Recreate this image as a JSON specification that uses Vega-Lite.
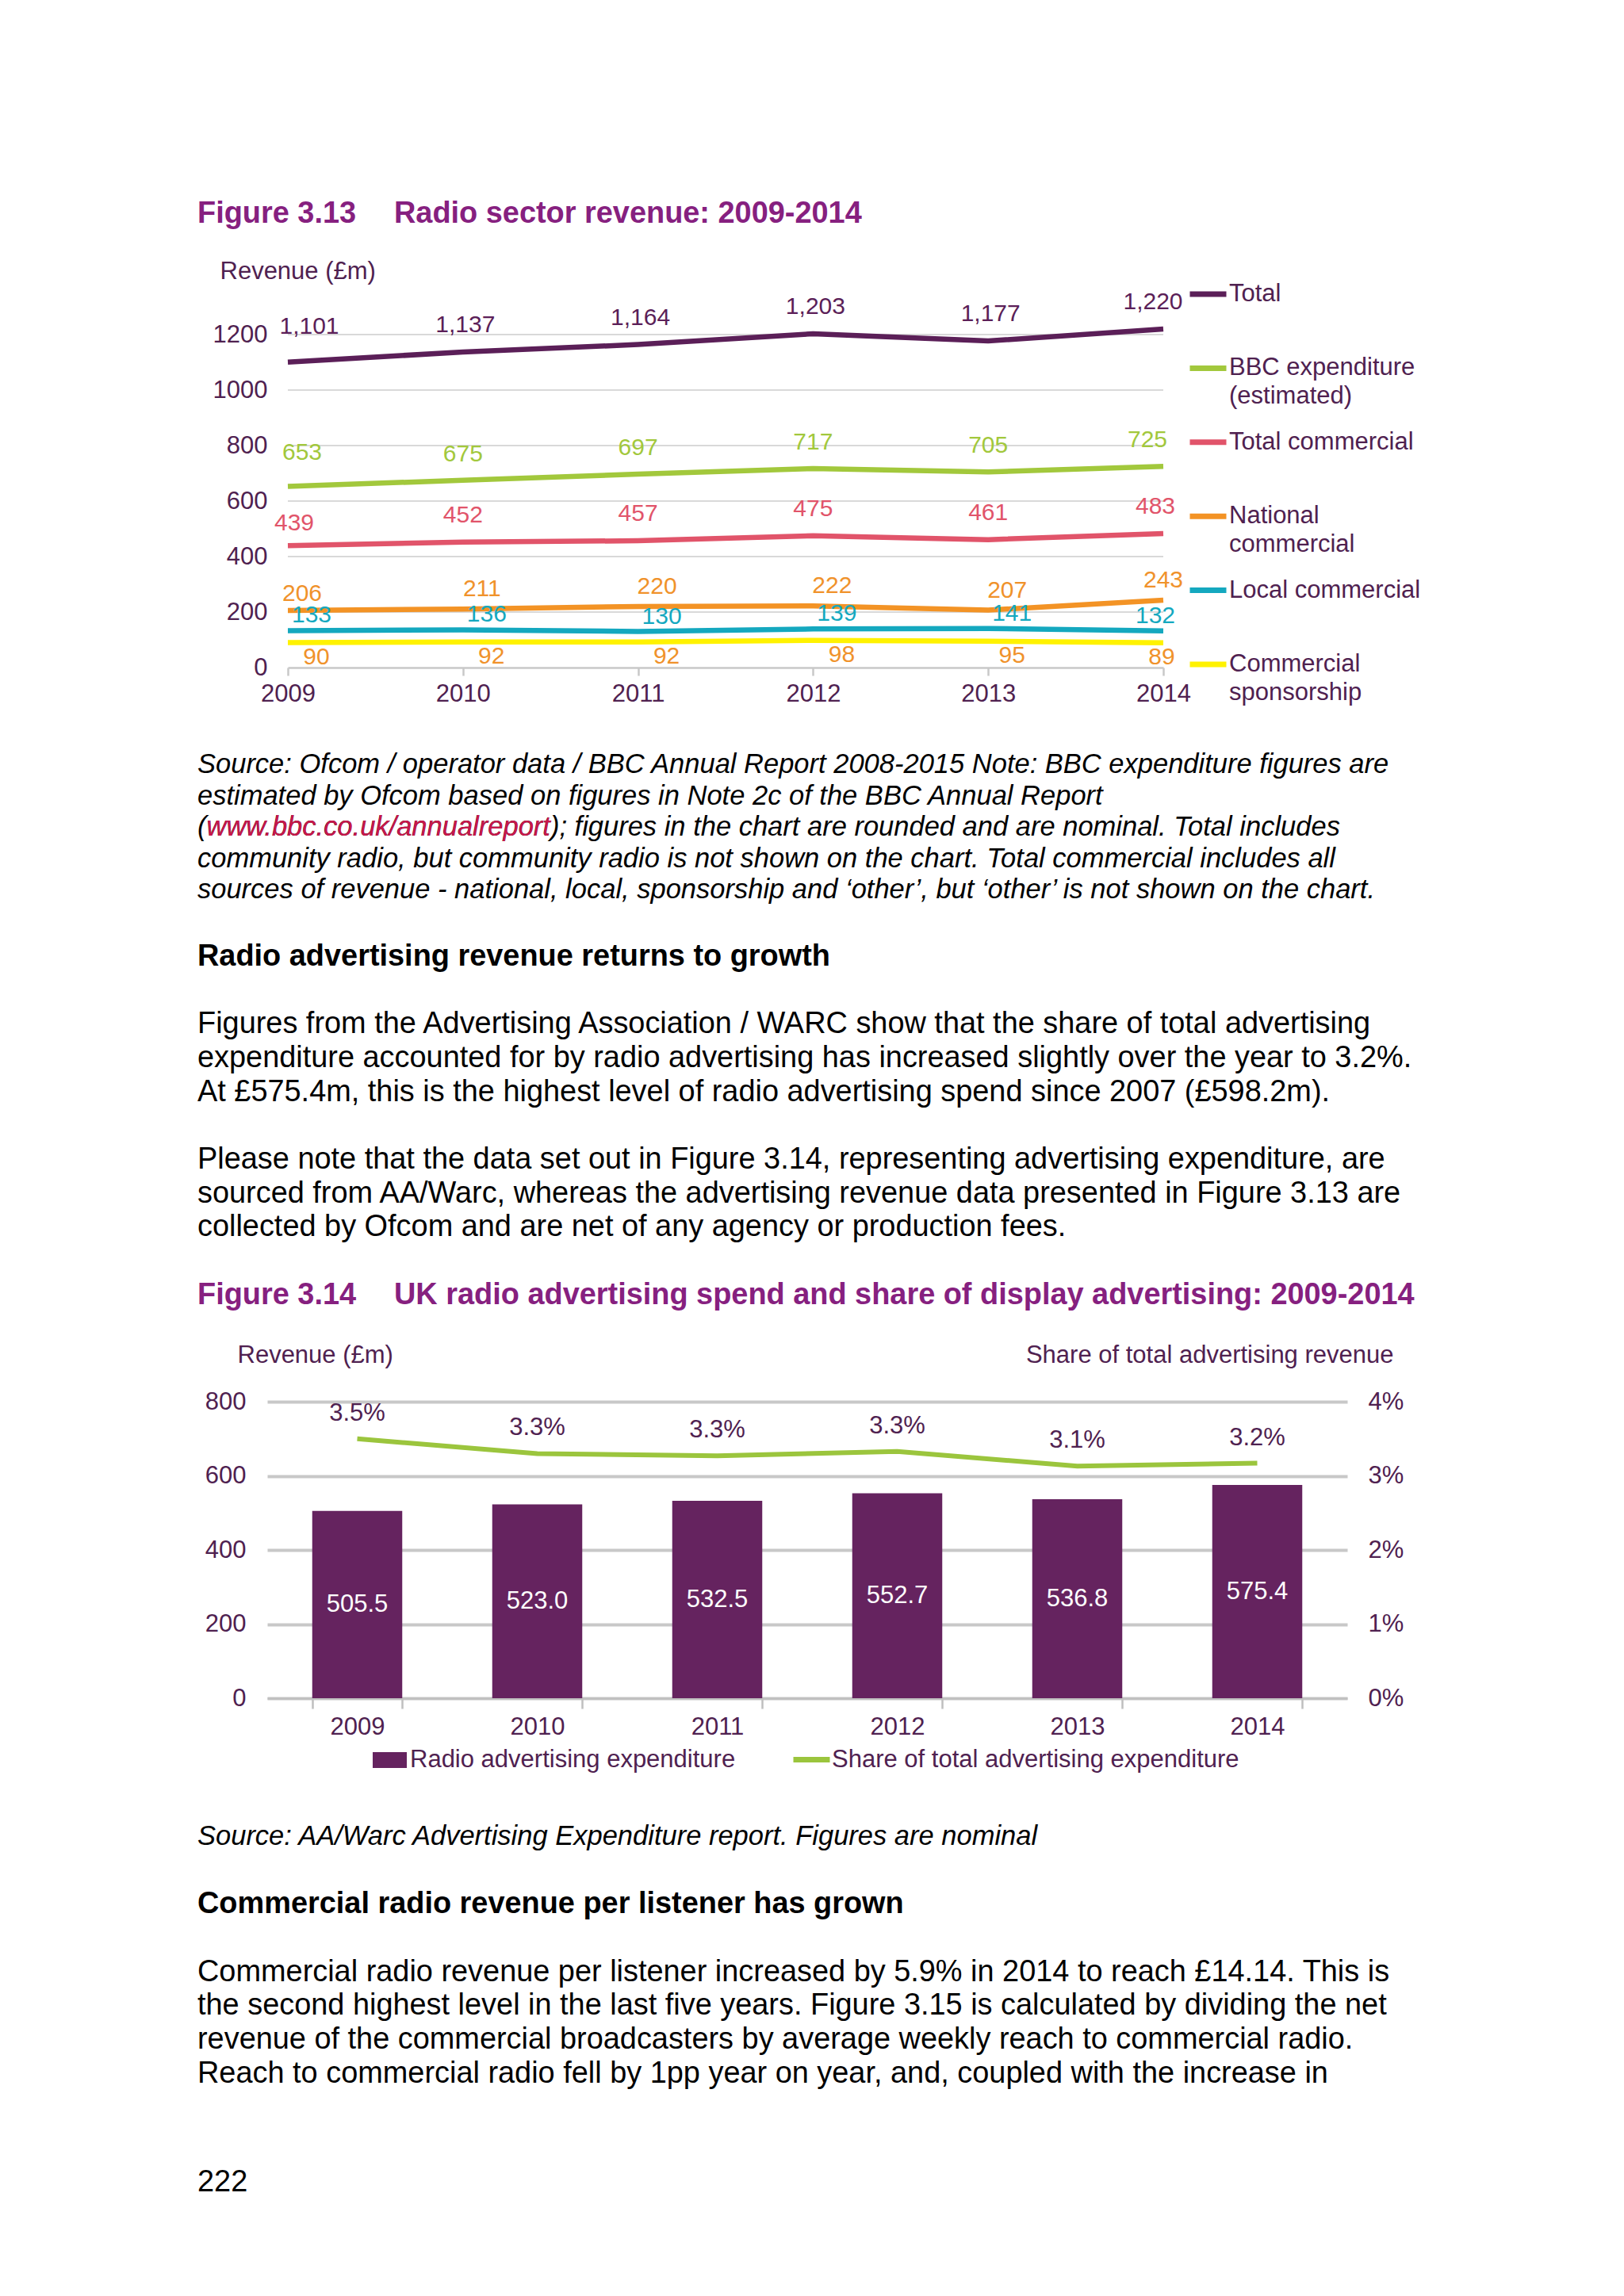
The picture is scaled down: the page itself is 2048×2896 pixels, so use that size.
{
  "$schema": "https://vega.github.io/schema/vega-lite/v6.json",
  "background": "white",
  "padding": {"left": 249, "top": 0, "right": 0, "bottom": 0},
  "autosize": {"type": "pad"},
  "bounds": "flush",
  "center": true,
  "spacing": 0,
  "resolve": {
    "scale": {"color": "independent", "fill": "independent", "stroke": "independent"},
    "legend": {"color": "independent", "fill": "independent", "stroke": "independent"}
  },
  "config": {
    "font": "Liberation Sans",
    "view": {"stroke": null},
    "style": {"guide-label": {"lineHeight": 36}},
    "axis": {"labelFont": "Liberation Sans", "titleFont": "Liberation Sans", "labelColor": "#4F2150", "titleColor": "#4F2150", "labelFontSize": 31, "titleFontSize": 31, "titleFontWeight": "normal"},
    "legend": {"labelFont": "Liberation Sans", "labelFontSize": 31, "labelColor": "#4F2150", "labelLimit": 600}
  },
  "vconcat": [
    {"width": 1, "height": 270, "mark": "point", "data": {"values": []}},
    {
      "width": 1538, "height": 81.5,
      "data": {"values": [
        {"row": 0, "tab": 0, "text": "Figure 3.13"},
        {"row": 0, "tab": 1, "text": "Radio sector revenue: 2009-2014"}
      ]},
      "mark": {"type": "text", "align": "left", "baseline": "middle", "fontSize": 37.9, "fontWeight": "bold", "color": "#86207F"},
      "encoding": {
        "x": {"field": "tab", "type": "quantitative", "scale": {"domain": [0, 1], "range": [0, 248]}, "axis": null},
        "y": {"field": "row", "type": "quantitative", "scale": {"domain": [0, 1], "range": [0, 42.66]}, "axis": null},
        "text": {"field": "text"}
      }
    },
    {
      "width": 1310, "height": 490,
      "data": {"values": [
        {"year": 2009, "series": "Total", "value": 1101},
        {"year": 2010, "series": "Total", "value": 1137},
        {"year": 2011, "series": "Total", "value": 1164},
        {"year": 2012, "series": "Total", "value": 1203},
        {"year": 2013, "series": "Total", "value": 1177},
        {"year": 2014, "series": "Total", "value": 1220},
        {"year": 2009, "series": "BBC expenditure (estimated)", "value": 653},
        {"year": 2010, "series": "BBC expenditure (estimated)", "value": 675},
        {"year": 2011, "series": "BBC expenditure (estimated)", "value": 697},
        {"year": 2012, "series": "BBC expenditure (estimated)", "value": 717},
        {"year": 2013, "series": "BBC expenditure (estimated)", "value": 705},
        {"year": 2014, "series": "BBC expenditure (estimated)", "value": 725},
        {"year": 2009, "series": "Total commercial", "value": 439},
        {"year": 2010, "series": "Total commercial", "value": 452},
        {"year": 2011, "series": "Total commercial", "value": 457},
        {"year": 2012, "series": "Total commercial", "value": 475},
        {"year": 2013, "series": "Total commercial", "value": 461},
        {"year": 2014, "series": "Total commercial", "value": 483},
        {"year": 2009, "series": "National commercial", "value": 206},
        {"year": 2010, "series": "National commercial", "value": 211},
        {"year": 2011, "series": "National commercial", "value": 220},
        {"year": 2012, "series": "National commercial", "value": 222},
        {"year": 2013, "series": "National commercial", "value": 207},
        {"year": 2014, "series": "National commercial", "value": 243},
        {"year": 2009, "series": "Local commercial", "value": 133},
        {"year": 2010, "series": "Local commercial", "value": 136},
        {"year": 2011, "series": "Local commercial", "value": 130},
        {"year": 2012, "series": "Local commercial", "value": 139},
        {"year": 2013, "series": "Local commercial", "value": 141},
        {"year": 2014, "series": "Local commercial", "value": 132},
        {"year": 2009, "series": "Commercial sponsorship", "value": 90},
        {"year": 2010, "series": "Commercial sponsorship", "value": 92},
        {"year": 2011, "series": "Commercial sponsorship", "value": 92},
        {"year": 2012, "series": "Commercial sponsorship", "value": 98},
        {"year": 2013, "series": "Commercial sponsorship", "value": 95},
        {"year": 2014, "series": "Commercial sponsorship", "value": 89}
      ]},
      "encoding": {
        "x": {"field": "year", "type": "ordinal", "scale": {"type": "point", "padding": 0, "range": [0, 1104]},
          "axis": {"title": null, "labelAngle": 0, "domainColor": "#C8C8C8", "domainWidth": 2.5, "tickColor": "#C8C8C8", "tickWidth": 2.5, "tickSize": 10, "labelBaseline": "middle", "labelPadding": 23.5, "grid": false}},
        "y": {"field": "value", "type": "quantitative", "scale": {"domain": [0, 1400], "nice": false},
          "axis": {"values": [0, 200, 400, 600, 800, 1000, 1200], "format": "d", "title": "Revenue (£m)", "titleAngle": 0, "titleAlign": "left", "titleBaseline": "middle", "titleX": -86, "titleY": -9.5, "domain": false, "ticks": false, "labelPadding": 26, "grid": false}}
      },
      "layer": [
        {
          "data": {"values": [{"grid": 200}, {"grid": 400}, {"grid": 600}, {"grid": 800}, {"grid": 1000}, {"grid": 1200}]},
          "mark": {"type": "rule", "color": "#D9D9D9", "strokeWidth": 2},
          "encoding": {
            "y": {"field": "grid", "type": "quantitative",
              "axis": {"values": [0, 200, 400, 600, 800, 1000, 1200], "format": "d", "title": "Revenue (£m)", "titleAngle": 0, "titleAlign": "left", "titleBaseline": "middle", "titleX": -86, "titleY": -9.5, "domain": false, "ticks": false, "labelPadding": 26, "grid": false}},
            "x": {"datum": 2009},
            "x2": {"datum": 2014}
          }
        },
        {
          "mark": {"type": "line", "strokeWidth": 6.5, "strokeCap": "butt", "strokeJoin": "round"},
          "encoding": {
            "color": {"field": "series", "type": "nominal",
              "scale": {"domain": ["Total", "BBC expenditure (estimated)", "Total commercial", "National commercial", "Local commercial", "Commercial sponsorship"],
                        "range": ["#5B1F58", "#A2C83C", "#E1546A", "#F39325", "#14A8BF", "#FFF200"]},
              "legend": {"title": null, "orient": "none", "legendX": 1134, "legendY": -7.5, "padding": 0, "symbolType": "stroke", "symbolSize": 2116, "symbolStrokeWidth": 7, "gridAlign": "all", "rowPadding": 15.4, "labelOffset": 0,
                "labelExpr": "datum.label == 'BBC expenditure (estimated)' ? ['BBC expenditure', '(estimated)'] : datum.label == 'National commercial' ? ['National', 'commercial'] : datum.label == 'Commercial sponsorship' ? ['Commercial', 'sponsorship'] : datum.label"}
            }
          }
        },
        {
          "mark": {"type": "text", "fontSize": 30, "baseline": "middle",
            "dx": {"expr": "datum.series == 'Total' ? (datum.year == 2009 ? 27 : datum.year == 2014 ? -13 : 3) : datum.series == 'BBC expenditure (estimated)' ? (datum.year == 2009 ? 18 : datum.year == 2014 ? -20 : 0) : datum.series == 'Total commercial' ? (datum.year == 2009 ? 8 : datum.year == 2014 ? -10 : 0) : datum.series == 'National commercial' ? (datum.year == 2009 ? 18 : datum.year == 2014 ? 0 : 24) : datum.series == 'Local commercial' ? (datum.year == 2014 ? -10 : 30) : (datum.year == 2014 ? -2 : datum.year == 2013 ? 30 : 36)"},
            "dy": {"expr": "datum.series == 'Total' ? (datum.year == 2009 ? -45 : -34) : datum.series == 'BBC expenditure (estimated)' ? (datum.year == 2009 ? -42 : -33) : datum.series == 'Total commercial' ? (datum.year == 2009 ? -28 : -34) : datum.series == 'National commercial' ? (datum.year == 2009 ? -21 : -25) : datum.series == 'Local commercial' ? -19 : 18"}
          },
          "encoding": {
            "text": {"field": "value", "type": "quantitative", "format": ","},
            "fill": {"field": "series", "type": "nominal",
              "scale": {"domain": ["Total", "BBC expenditure (estimated)", "Total commercial", "National commercial", "Local commercial", "Commercial sponsorship"],
                        "range": ["#5B1F58", "#A2C83C", "#E1546A", "#F0922B", "#14A8BF", "#F0922B"]},
              "legend": null}
          }
        }
      ]
    },
    {"width": 1, "height": 123, "mark": "point", "data": {"values": []}},
    {
      "width": 1538, "height": 241.5,
      "data": {"values": [
        {"row": 0, "text": "Source: Ofcom / operator data / BBC Annual Report 2008-2015 Note: BBC expenditure figures are"},
        {"row": 1, "text": "estimated by Ofcom based on figures in Note 2c of the BBC Annual Report"},
        {"row": 2, "text": "(www.bbc.co.uk/annualreport); figures in the chart are rounded and are nominal. Total includes"},
        {"row": 3, "text": "community radio, but community radio is not shown on the chart. Total commercial includes all"},
        {"row": 4, "text": "sources of revenue - national, local, sponsorship and ‘other’, but ‘other’ is not shown on the chart."}
      ]},
      "encoding": {
        "x": {"value": 0},
        "y": {"field": "row", "type": "quantitative", "scale": {"domain": [0, 1], "range": [0, 39.6]}, "axis": null},
        "text": {"field": "text"}
      },
      "layer": [
        {"mark": {"type": "text", "align": "left", "baseline": "middle", "fontSize": 34.5, "fontStyle": "italic", "color": "#000000"}},
        {"transform": [{"filter": "datum.row == 2"}],
         "mark": {"type": "text", "align": "left", "baseline": "middle", "fontSize": 34.5, "fontStyle": "italic", "color": "#C8174B", "dx": 11.5},
         "encoding": {"text": {"value": "www.bbc.co.uk/annualreport"}}}
      ]
    },
    {
      "width": 1538, "height": 561,
      "data": {"values": [
        {"row": 0, "kind": "heading", "tab": 0, "text": "Radio advertising revenue returns to growth"},
        {"row": 2, "kind": "body", "tab": 0, "text": "Figures from the Advertising Association / WARC show that the share of total advertising"},
        {"row": 3, "kind": "body", "tab": 0, "text": "expenditure accounted for by radio advertising has increased slightly over the year to 3.2%."},
        {"row": 4, "kind": "body", "tab": 0, "text": "At £575.4m, this is the highest level of radio advertising spend since 2007 (£598.2m)."},
        {"row": 6, "kind": "body", "tab": 0, "text": "Please note that the data set out in Figure 3.14, representing advertising expenditure, are"},
        {"row": 7, "kind": "body", "tab": 0, "text": "sourced from AA/Warc, whereas the advertising revenue data presented in Figure 3.13 are"},
        {"row": 8, "kind": "body", "tab": 0, "text": "collected by Ofcom and are net of any agency or production fees."},
        {"row": 10, "kind": "title", "tab": 0, "text": "Figure 3.14"},
        {"row": 10, "kind": "title", "tab": 1, "text": "UK radio advertising spend and share of display advertising: 2009-2014"}
      ]},
      "encoding": {
        "x": {"field": "tab", "type": "quantitative", "scale": {"domain": [0, 1], "range": [0, 248]}, "axis": null},
        "y": {"field": "row", "type": "quantitative", "scale": {"domain": [0, 1], "range": [0, 42.66]}, "axis": null},
        "text": {"field": "text"}
      },
      "layer": [
        {"transform": [{"filter": "datum.kind == 'body'"}], "mark": {"type": "text", "align": "left", "baseline": "middle", "fontSize": 37.9, "color": "#000000"}},
        {"transform": [{"filter": "datum.kind == 'heading'"}], "mark": {"type": "text", "align": "left", "baseline": "middle", "fontSize": 37.9, "fontWeight": "bold", "color": "#000000"}},
        {"transform": [{"filter": "datum.kind == 'title'"}], "mark": {"type": "text", "align": "left", "baseline": "middle", "fontSize": 37.9, "fontWeight": "bold", "color": "#86207F"}}
      ]
    },
    {
      "width": 1362, "height": 374,
      "data": {"values": [
        {"year": 2009, "spend": 505.5, "share": 0.035},
        {"year": 2010, "spend": 523.0, "share": 0.033},
        {"year": 2011, "spend": 532.5, "share": 0.0327},
        {"year": 2012, "spend": 552.7, "share": 0.0333},
        {"year": 2013, "spend": 536.8, "share": 0.0313},
        {"year": 2014, "spend": 575.4, "share": 0.0317}
      ]},
      "encoding": {
        "x": {"field": "year", "type": "ordinal", "scale": {"paddingInner": 0.5, "paddingOuter": 0.25},
          "axis": {"title": null, "labelAngle": 0, "tickBand": "extent", "domainColor": "#BFBFBF", "domainWidth": 2.5, "tickColor": "#BFBFBF", "tickWidth": 2.5, "tickSize": 13, "labelBaseline": "middle", "labelPadding": 23, "grid": false}}
      },
      "layer": [
        {
          "mark": {"type": "bar"},
          "encoding": {
            "y": {"field": "spend", "type": "quantitative", "scale": {"domain": [0, 800], "nice": false},
              "axis": {"values": [0, 200, 400, 600, 800], "title": "Revenue (£m)", "titleAngle": 0, "titleAlign": "left", "titleBaseline": "middle", "titleX": -38, "titleY": -59, "domain": false, "ticks": false, "labelPadding": 27, "grid": true, "gridColor": "#C8C8C8", "gridWidth": 4}},
            "fill": {"datum": "Radio advertising expenditure", "type": "nominal", "scale": {"range": ["#65235F"]},
              "legend": {"title": null, "orient": "none", "legendX": 133, "legendY": 430.5, "padding": 0, "symbolType": "M-1,-0.465L1,-0.465L1,0.465L-1,0.465Z", "symbolSize": 1849, "symbolStrokeWidth": 0, "labelOffset": 4}}
          }
        },
        {
          "mark": {"type": "text", "color": "white", "fontSize": 31, "baseline": "middle"},
          "encoding": {
            "y": {"field": "spend", "type": "quantitative", "scale": {"domain": [0, 1600], "nice": false}, "axis": null},
            "text": {"field": "spend", "type": "quantitative", "format": ".1f"}
          }
        },
        {
          "encoding": {
            "y": {"field": "share", "type": "quantitative", "scale": {"domain": [0, 0.04], "nice": false},
              "axis": {"orient": "right", "values": [0, 0.01, 0.02, 0.03, 0.04], "format": ".0%", "title": "Share of total advertising revenue", "titleAngle": 0, "titleAlign": "right", "titleBaseline": "middle", "titleX": 58, "titleY": -59, "domain": false, "ticks": false, "labelPadding": 26, "grid": false}}
          },
          "layer": [
            {"mark": {"type": "line", "strokeWidth": 6, "strokeCap": "butt"},
             "encoding": {"stroke": {"datum": "Share of total advertising expenditure", "type": "nominal", "scale": {"range": ["#9BC53D"]},
               "legend": {"title": null, "orient": "none", "legendX": 660, "legendY": 425, "padding": 0, "symbolType": "stroke", "symbolSize": 2116, "symbolStrokeWidth": 7, "labelOffset": -1}}}},
            {"mark": {"type": "text", "color": "#4F2150", "fontSize": 31, "baseline": "middle", "dy": -32},
             "encoding": {"text": {"field": "share", "type": "quantitative", "format": ".1%"}}}
          ]
        }
      ],
      "resolve": {"scale": {"y": "independent"}}
    },
    {"width": 1, "height": 174.6, "mark": "point", "data": {"values": []}},
    {
      "width": 1538, "height": 436,
      "data": {"values": [
        {"row": 0, "kind": "source", "text": "Source: AA/Warc Advertising Expenditure report. Figures are nominal"},
        {"row": 2, "kind": "heading", "text": "Commercial radio revenue per listener has grown"},
        {"row": 4, "kind": "body", "text": "Commercial radio revenue per listener increased by 5.9% in 2014 to reach £14.14. This is"},
        {"row": 5, "kind": "body", "text": "the second highest level in the last five years. Figure 3.15 is calculated by dividing the net"},
        {"row": 6, "kind": "body", "text": "revenue of the commercial broadcasters by average weekly reach to commercial radio."},
        {"row": 7, "kind": "body", "text": "Reach to commercial radio fell by 1pp year on year, and, coupled with the increase in"}
      ]},
      "encoding": {
        "x": {"value": 0},
        "y": {"field": "row", "type": "quantitative", "scale": {"domain": [0, 1], "range": [0, 42.66]}, "axis": null},
        "text": {"field": "text"}
      },
      "layer": [
        {"transform": [{"filter": "datum.kind == 'source'"}], "mark": {"type": "text", "align": "left", "baseline": "middle", "fontSize": 34.5, "fontStyle": "italic", "color": "#000000"}},
        {"transform": [{"filter": "datum.kind == 'heading'"}], "mark": {"type": "text", "align": "left", "baseline": "middle", "fontSize": 37.9, "fontWeight": "bold", "color": "#000000"}},
        {"transform": [{"filter": "datum.kind == 'body'"}], "mark": {"type": "text", "align": "left", "baseline": "middle", "fontSize": 37.9, "color": "#000000"}}
      ]
    },
    {
      "width": 1538, "height": 40,
      "data": {"values": [{"row": 0, "text": "222"}]},
      "mark": {"type": "text", "align": "left", "baseline": "middle", "fontSize": 37.9, "color": "#000000"},
      "encoding": {
        "x": {"value": 0},
        "y": {"field": "row", "type": "quantitative", "scale": {"domain": [0, 1], "range": [0, 42.66]}, "axis": null},
        "text": {"field": "text"}
      }
    }
  ]
}
